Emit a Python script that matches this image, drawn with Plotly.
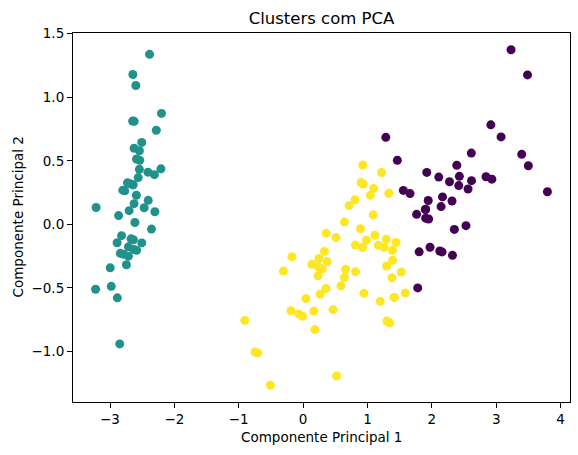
import plotly.graph_objects as go

# Componentes principais (PCA do iris)
pc1 = [-2.684, -2.714, -2.889, -2.745, -2.729, -2.281, -2.821, -2.626, -2.886, -2.673,
       -2.507, -2.613, -2.786, -3.224, -2.645, -2.386, -2.624, -2.648, -2.200, -2.588,
       -2.310, -2.544, -3.216, -2.303, -2.356, -2.507, -2.469, -2.562, -2.640, -2.632,
       -2.587, -2.410, -2.649, -2.599, -2.637, -2.866, -2.625, -2.801, -2.981, -2.590,
       -2.770, -2.849, -2.997, -2.406, -2.209, -2.714, -2.538, -2.839, -2.543, -2.703,
       1.285, 0.932, 1.464, 0.183, 1.088, 0.642, 1.095, -0.749, 1.044, -0.009,
       -0.508, 0.512, 0.265, 0.985, -0.174, 0.928, 0.660, 0.236, 0.945, 0.045,
       1.116, 0.358, 1.298, 0.922, 0.715, 0.900, 1.332, 1.558, 0.813, -0.306,
       -0.068, -0.190, 0.136, 1.380, 0.588, 0.807, 1.221, 0.815, 0.246, 0.166,
       0.465, 0.891, 0.231, -0.705, 0.357, 0.332, 0.376, 0.643, -0.906, 0.299,
       2.531, 1.415, 2.617, 1.972, 2.350, 3.397, 0.521, 2.933, 2.321, 2.917,
       1.662, 1.803, 2.166, 1.346, 1.586, 1.904, 1.950, 3.487, 3.796, 1.301,
       2.428, 1.199, 3.500, 1.389, 2.275, 2.614, 1.259, 1.291, 2.124, 2.388,
       2.842, 3.231, 2.159, 1.444, 1.781, 3.076, 2.144, 1.905, 1.169, 2.108,
       2.314, 1.922, 1.415, 2.563, 2.419, 1.944, 1.527, 1.764, 1.901, 1.390]

pc2 = [0.319, -0.177, -0.145, -0.318, 0.327, 0.741, -0.089, 0.163, -0.578, -0.114,
       0.645, 0.015, -0.235, -0.511, 1.179, 1.338, 0.811, 0.312, 0.873, 0.514,
       0.391, 0.433, 0.133, 0.099, -0.037, -0.146, 0.131, 0.368, 0.312, -0.197,
       -0.204, 0.411, 0.813, 1.093, -0.121, 0.069, 0.599, 0.269, -0.488, 0.229,
       0.264, -0.941, -0.342, 0.189, 0.437, -0.250, 0.504, -0.228, 0.579, 0.108,
       0.685, 0.318, 0.504, -0.828, 0.075, -0.418, 0.283, -1.005, 0.228, -0.723,
       -1.266, -0.104, -0.550, -0.125, -0.255, 0.467, -0.353, -0.334, -0.543, -0.584,
       -0.085, -0.069, -0.328, -0.183, 0.149, 0.329, 0.244, 0.267, -0.163, -0.368,
       -0.705, -0.680, -0.314, -0.421, -0.484, 0.194, 0.408, -0.372, -0.269, -0.682,
       -0.671, -0.034, -0.404, -1.012, -0.505, -0.213, -0.293, 0.018, -0.756, -0.349,
       -0.010, -0.575, 0.344, -0.180, -0.040, 0.551, -1.193, 0.356, -0.244, 0.783,
       0.242, -0.216, 0.216, -0.777, -0.540, 0.119, 0.042, 1.176, 0.257, -0.761,
       0.378, -0.606, 0.461, -0.204, 0.335, 0.561, -0.180, -0.117, -0.210, 0.465,
       0.375, 1.374, -0.217, -0.143, -0.500, 0.688, 0.140, 0.049, -0.165, 0.372,
       0.184, 0.409, -0.575, 0.278, 0.305, 0.188, -0.375, 0.079, 0.117, -0.283]

# Rotulos do KMeans (0 = roxo, 1 = verde-azulado, 2 = amarelo)
labels = [1] * 50 + [
    0, 2, 0, 2, 2, 2, 2, 2, 2, 2,
    2, 2, 2, 2, 2, 2, 2, 2, 2, 2,
    2, 2, 2, 2, 2, 2, 2, 0, 2, 2,
    2, 2, 2, 2, 2, 2, 2, 2, 2, 2,
    2, 2, 2, 2, 2, 2, 2, 2, 2, 2,
    0, 2, 0, 0, 0, 0, 2, 0, 0, 0,
    0, 0, 0, 2, 2, 0, 0, 0, 0, 2,
    0, 2, 0, 2, 0, 0, 2, 2, 0, 0,
    0, 0, 0, 2, 0, 0, 0, 0, 2, 0,
    0, 0, 2, 0, 0, 0, 2, 0, 0, 2]

cores = ['#440154', '#21918c', '#fde725']

fig = go.Figure()

# scatter unico, cor por cluster (mesma ordem de desenho do matplotlib)
fig.add_trace(go.Scatter(
    x=pc1, y=pc2, mode='markers',
    marker=dict(size=9, color=[cores[l] for l in labels], line=dict(width=0)),
    showlegend=False))

fonte = dict(family='DejaVu Sans', color='black')

fig.update_layout(
    width=578, height=455,
    margin=dict(l=73, r=8, t=33, b=53),
    plot_bgcolor='white', paper_bgcolor='white',
    font=dict(family='DejaVu Sans', size=13.5, color='black'),
    title=dict(text='Clusters com PCA', x=0.5, xref='paper', y=1 - 18 / 455,
               yref='container', xanchor='center', yanchor='middle',
               font=dict(family='DejaVu Sans', size=16.5, color='black')),
)

eixo = dict(showgrid=False, zeroline=False, showline=True, linecolor='black',
            linewidth=1.1, mirror=True, ticks='outside', ticklen=5, tickwidth=1.1,
            tickcolor='black', tickfont=dict(family='DejaVu Sans', size=13.5, color='black'))

fig.update_xaxes(range=[-3.575, 4.147], tickvals=[-3, -2, -1, 0, 1, 2, 3, 4], **eixo)
fig.update_yaxes(range=[-1.398, 1.506], tickvals=[-1.0, -0.5, 0.0, 0.5, 1.0, 1.5],
                 tickformat='.1f', **eixo)

fig.add_annotation(text='Componente Principal 1', xref='paper', yref='paper',
                   x=0.5, y=0, yshift=-35, showarrow=False, xanchor='center',
                   yanchor='middle', font=dict(size=13.5, **fonte))
fig.add_annotation(text='Componente Principal 2', xref='paper', yref='paper',
                   x=0, y=0.5, xshift=-56, showarrow=False, textangle=-90,
                   xanchor='center', yanchor='middle', font=dict(size=13.5, **fonte))

# tira a margem padrao do body para a figura ficar no canto da pagina
fig.write_html("out.html", config={'displayModeBar': False},
               post_script="document.body.style.margin='0';")
